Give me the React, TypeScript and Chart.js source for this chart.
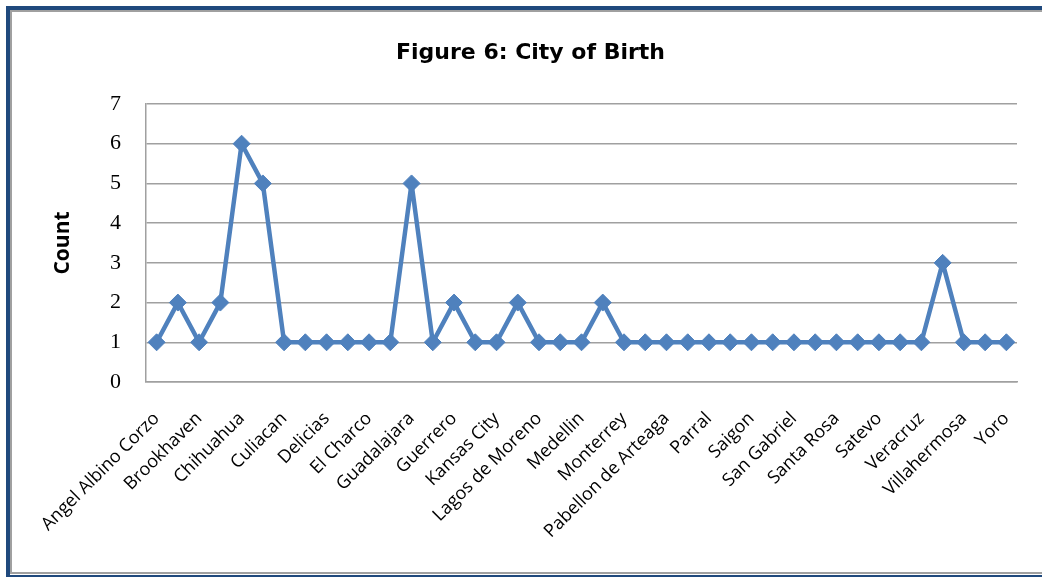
import React, { useEffect, useRef } from "react";
import { Chart, registerables } from "chart.js";

Chart.register(...registerables);

const cities: string[] = [
  "Angel Albino Corzo", "Apodaca", "Brookhaven", "Camargo", "Chihuahua",
  "Cuauhtemoc", "Culiacan", "Dallas", "Delicias", "Durango",
  "El Charco", "Fresnillo", "Guadalajara", "Guanajuato", "Guerrero",
  "Jimenez", "Kansas City", "La Paz", "Lagos de Moreno", "Leon",
  "Medellin", "Mexico City", "Monterrey", "Oaxaca", "Pabellon de Arteaga",
  "Panama City", "Parral", "Puebla", "Saigon", "San Antonio",
  "San Gabriel", "San Luis Potosi", "Santa Rosa", "Santiago", "Satevo",
  "Torreon", "Veracruz", "Victoria", "Villahermosa", "Xalapa", "Yoro",
];

const counts: number[] = [
  1, 2, 1, 2, 6, 5, 1, 1, 1, 1,
  1, 1, 5, 1, 2, 1, 1, 2, 1, 1,
  1, 2, 1, 1, 1, 1, 1, 1, 1, 1,
  1, 1, 1, 1, 1, 1, 1, 3, 1, 1, 1,
];

const yTicks: number[] = [0, 1, 2, 3, 4, 5, 6, 7];

const W = 1042;
const H = 577;
const PAD_LEFT = 44;

export default function App() {
  const ref = useRef<HTMLCanvasElement | null>(null);

  useEffect(() => {
    if (!ref.current) return;
    const chart = new Chart(ref.current, {
      type: "line",
      data: {
        labels: cities,
        datasets: [
          {
            label: "Count",
            data: counts,
            borderColor: "#4F81BD",
            backgroundColor: "#4F81BD",
            borderWidth: 4.5,
            borderJoinStyle: "round",
            pointStyle: "rectRot",
            pointRadius: 8.5,
            pointBorderWidth: 1,
            pointBackgroundColor: "#4F81BD",
            pointBorderColor: "#4F81BD",
            tension: 0,
          },
        ],
      },
      options: {
        responsive: false,
        animation: false,
        devicePixelRatio: 1,
        layout: { padding: { left: PAD_LEFT, right: 25, top: 0, bottom: 0 } },
        plugins: {
          legend: { display: false },
          tooltip: { enabled: false },
          title: {
            display: true,
            text: "Figure 6: City of Birth",
            color: "#000",
            font: { family: "DejaVu Sans", size: 22, weight: "bold" },
            padding: { top: 40, bottom: 37.6 },
          },
        },
        scales: {
          x: {
            type: "category",
            offset: true,
            grid: { display: false, drawTicks: false },
            border: { display: true, color: "#A0A0A0", width: 1.5 },
            ticks: {
              autoSkip: false,
              maxRotation: 45,
              minRotation: 45,
              padding: 26,
              color: "#000",
              font: { family: "Open Sans", size: 18 },
              callback: (_v: any, i: number) => (i % 2 === 0 ? cities[i] : ""),
            },
            afterFit: (s: any) => {
              s.height = H - 382;
              s.paddingLeft = 0;
              s.paddingRight = 0;
            },
          },
          y: {
            min: 0,
            max: 7,
            afterBuildTicks: (s: any) => {
              s.ticks = yTicks.map((v) => ({ value: v }));
            },
            grid: { color: "#A0A0A0", lineWidth: 1.5, drawTicks: false },
            border: { display: true, color: "#A0A0A0", width: 1.5 },
            ticks: {
              padding: 25,
              color: "#000",
              font: { family: "Liberation Serif", size: 22 },
            },
            title: {
              display: true,
              text: "Count",
              color: "#000",
              font: { family: "Open Sans", size: 21, weight: "bold" },
              padding: { top: 50 - PAD_LEFT, bottom: 0 },
            },
            afterFit: (s: any) => {
              s.width = 146 - PAD_LEFT;
              s.paddingTop = 0;
              s.paddingBottom = 0;
            },
          },
        },
      },
    });
    return () => chart.destroy();
  }, []);

  return (
    <div
      style={{
        position: "fixed",
        left: 0,
        top: 0,
        width: W,
        height: H,
        background: "#fff",
        overflow: "hidden",
      }}
    >
      <div
        style={{
          position: "absolute",
          left: 6,
          top: 6,
          width: W + 20,
          height: 573,
          borderLeft: "4px solid #1F497D",
          borderTop: "4px solid #1F497D",
          borderBottom: "4px solid #1F497D",
          boxSizing: "border-box",
        }}
      />
      <div
        style={{
          position: "absolute",
          left: 10,
          top: 10,
          width: W + 20,
          height: 564,
          borderLeft: "2px solid #A0A0A0",
          borderTop: "2px solid #A0A0A0",
          borderBottom: "2px solid #A0A0A0",
          boxSizing: "border-box",
        }}
      />
      <canvas
        ref={ref}
        width={W}
        height={H}
        style={{ position: "absolute", left: 0, top: 0 }}
      />
    </div>
  );
}
